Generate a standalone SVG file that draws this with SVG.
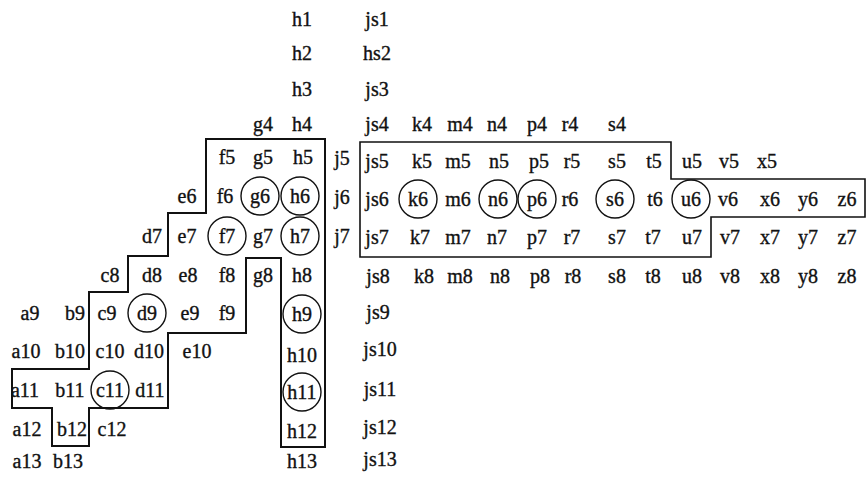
<svg xmlns="http://www.w3.org/2000/svg" width="866" height="477" viewBox="0 0 866 477">
<style>
text{font-family:"Liberation Serif","Times New Roman",serif;font-size:20px;text-anchor:middle;fill:#111;stroke:#111;stroke-width:0.35}
.ring{fill:none;stroke:#111;stroke-width:1.4}
.outline{fill:none;stroke:#111;stroke-width:2}
.box{fill:none;stroke:#111;stroke-width:1.6}
</style>
<rect width="866" height="477" fill="#fff"/>
<g id="connectors">
<path id="stair-region" class="outline" d="M206,139 H325 V447 H281 V258 H246 V333 H168 V408 H89 V446 H52 V408 H12 V369 H89 V292 H128 V256 H168 V213 H206 Z"/>
<path id="js-region" class="box" d="M360,142 H671 V179 H865 V217 H711 V257 H360 Z"/>
</g>
<g id="circles">
<circle id="c-g6" class="ring" cx="260" cy="196" r="19"/>
<circle id="c-h6" class="ring" cx="300" cy="196" r="19"/>
<circle id="c-f7" class="ring" cx="227" cy="236" r="19"/>
<circle id="c-h7" class="ring" cx="300" cy="236" r="19"/>
<circle id="c-d9" class="ring" cx="147" cy="313" r="19"/>
<circle id="c-h9" class="ring" cx="302" cy="314" r="19"/>
<circle id="c-c11" class="ring" cx="110" cy="390" r="19"/>
<circle id="c-h11" class="ring" cx="302" cy="392" r="19"/>
<circle id="c-k6" class="ring" cx="418" cy="199" r="19"/>
<circle id="c-n6" class="ring" cx="498" cy="199" r="19"/>
<circle id="c-p6" class="ring" cx="537" cy="199" r="19"/>
<circle id="c-s6" class="ring" cx="615" cy="199" r="19"/>
<circle id="c-u6" class="ring" cx="691" cy="199" r="19"/>
</g>
<g id="row1"><text x="302" y="26">h1</text><text x="377" y="26">js1</text></g>
<g id="row2"><text x="302" y="60">h2</text><text x="377" y="60">hs2</text></g>
<g id="row3"><text x="302" y="96">h3</text><text x="377" y="96">js3</text></g>
<g id="row4"><text x="263" y="131">g4</text><text x="302" y="131">h4</text><text x="377" y="131">js4</text><text x="422" y="131">k4</text><text x="460" y="131">m4</text><text x="497" y="131">n4</text><text x="537" y="131">p4</text><text x="570" y="131">r4</text><text x="617" y="131">s4</text></g>
<g id="row5"><text x="227" y="164">f5</text><text x="263" y="164">g5</text><text x="303" y="164">h5</text><text x="342" y="165">j5</text><text x="377" y="168">js5</text><text x="422" y="168">k5</text><text x="458" y="168">m5</text><text x="499" y="168">n5</text><text x="539" y="168">p5</text><text x="572" y="168">r5</text><text x="617" y="168">s5</text><text x="654" y="168">t5</text><text x="692" y="168">u5</text><text x="729" y="168">v5</text><text x="767" y="168">x5</text></g>
<g id="row6"><text x="187" y="203">e6</text><text x="225" y="203">f6</text><text x="260" y="203">g6</text><text x="300" y="203">h6</text><text x="342" y="204">j6</text><text x="377" y="206">js6</text><text x="418" y="206">k6</text><text x="458" y="206">m6</text><text x="498" y="206">n6</text><text x="537" y="206">p6</text><text x="570" y="206">r6</text><text x="615" y="206">s6</text><text x="655" y="206">t6</text><text x="691" y="206">u6</text><text x="728" y="206">v6</text><text x="770" y="206">x6</text><text x="808" y="206">y6</text><text x="847" y="206">z6</text></g>
<g id="row7"><text x="152" y="243">d7</text><text x="187" y="243">e7</text><text x="227" y="243">f7</text><text x="263" y="243">g7</text><text x="300" y="243">h7</text><text x="342" y="243">j7</text><text x="377" y="244">js7</text><text x="420" y="244">k7</text><text x="458" y="244">m7</text><text x="497" y="244">n7</text><text x="537" y="244">p7</text><text x="572" y="244">r7</text><text x="617" y="244">s7</text><text x="653" y="244">t7</text><text x="692" y="244">u7</text><text x="730" y="244">v7</text><text x="770" y="244">x7</text><text x="808" y="244">y7</text><text x="847" y="244">z7</text></g>
<g id="row8"><text x="110" y="282">c8</text><text x="152" y="282">d8</text><text x="188" y="282">e8</text><text x="227" y="282">f8</text><text x="263" y="282">g8</text><text x="302" y="282">h8</text><text x="378" y="283">js8</text><text x="424" y="283">k8</text><text x="460" y="283">m8</text><text x="500" y="283">n8</text><text x="540" y="283">p8</text><text x="573" y="283">r8</text><text x="617" y="283">s8</text><text x="653" y="283">t8</text><text x="692" y="283">u8</text><text x="730" y="283">v8</text><text x="770" y="283">x8</text><text x="808" y="283">y8</text><text x="847" y="283">z8</text></g>
<g id="row9"><text x="30" y="320">a9</text><text x="75" y="320">b9</text><text x="107" y="320">c9</text><text x="147" y="320">d9</text><text x="190" y="320">e9</text><text x="227" y="320">f9</text><text x="302" y="321">h9</text><text x="378" y="319">js9</text></g>
<g id="row10"><text x="26" y="358">a10</text><text x="70" y="358">b10</text><text x="110" y="358">c10</text><text x="149" y="358">d10</text><text x="197" y="358">e10</text><text x="302" y="362">h10</text><text x="380" y="356">js10</text></g>
<g id="row11"><text x="25" y="397">a11</text><text x="70" y="397">b11</text><text x="110" y="397">c11</text><text x="150" y="397">d11</text><text x="302" y="399">h11</text><text x="380" y="396">js11</text></g>
<g id="row12"><text x="27" y="436">a12</text><text x="72" y="436">b12</text><text x="112" y="436">c12</text><text x="302" y="438">h12</text><text x="380" y="434">js12</text></g>
<g id="row13"><text x="27" y="468">a13</text><text x="68" y="468">b13</text><text x="302" y="468">h13</text><text x="380" y="466">js13</text></g>
</svg>
